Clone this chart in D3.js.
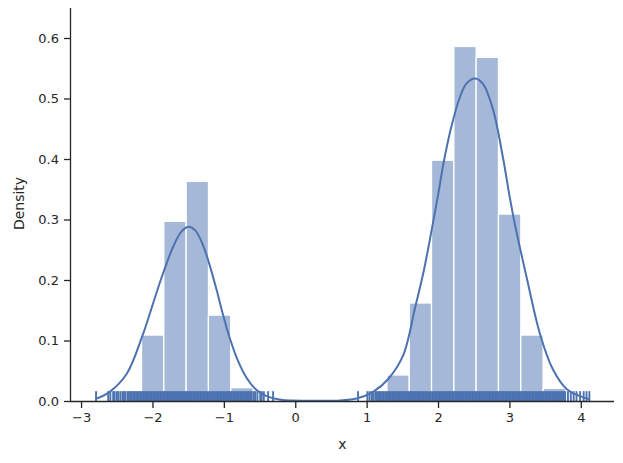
<!DOCTYPE html>
<html>
<head>
<meta charset="utf-8">
<script src="https://cdn.jsdelivr.net/npm/d3@7"></script>
<style>
    body { margin: 0; background: #fff; }
    text { font-family: "DejaVu Sans", sans-serif; fill: #262626; }
</style>
</head>
<body>
<div id="chart"></div>
<script>
// histogram bars (left edge of each bin, density)
const binX0 = [-2.153, -1.841, -1.528, -1.216, -0.903, 1.284, 1.597, 1.909, 2.222, 2.534, 2.847, 3.159, 3.472];
const binWidth = 0.3126;
const binDensity = [0.109, 0.297, 0.363, 0.142, 0.022, 0.043, 0.162, 0.398, 0.586, 0.568, 0.309, 0.109, 0.021];

// kde curve
const kdeX = [-2.80, -2.60, -2.36, -2.14, -2.00, -1.89, -1.80, -1.71, -1.60, -1.50, -1.40, -1.29, -1.20, -1.10, -1.01, -0.92, -0.80, -0.68, -0.55, -0.40, -0.20, -0.03, 0.30, 0.63, 0.86, 1.09, 1.30, 1.51, 1.68, 1.80, 1.91, 2.00, 2.08, 2.18, 2.30, 2.40, 2.52, 2.63, 2.77, 2.91, 3.00, 3.08, 3.24, 3.43, 3.61, 3.80, 3.99, 4.12];
const kdeY = [0.003, 0.015, 0.045, 0.108, 0.158, 0.198, 0.228, 0.255, 0.279, 0.288, 0.282, 0.257, 0.225, 0.183, 0.142, 0.105, 0.066, 0.038, 0.019, 0.008, 0.002, 0.0008, 0.0005, 0.001, 0.004, 0.015, 0.036, 0.075, 0.155, 0.215, 0.282, 0.340, 0.395, 0.450, 0.500, 0.525, 0.533, 0.524, 0.482, 0.402, 0.340, 0.290, 0.205, 0.110, 0.052, 0.020, 0.008, 0.003];

// rug samples
const rugX = [
    -2.79, -2.62, -2.59, -2.55, -2.53, -2.50, -2.48, -2.45, -2.42, -2.40, -2.38, -2.35, -2.33, -2.31, -2.29,
    -2.27, -2.25, -2.23, -2.21, -2.19, -2.17, -2.15, -2.13, -2.11, -2.09, -2.07, -2.05, -2.03, -2.01, -1.99,
    -1.97, -1.95, -1.93, -1.91, -1.89, -1.87, -1.85, -1.83, -1.81, -1.79, -1.77, -1.75, -1.73, -1.71, -1.69,
    -1.67, -1.65, -1.63, -1.61, -1.59, -1.57, -1.55, -1.53, -1.51, -1.49, -1.47, -1.45, -1.43, -1.41, -1.39,
    -1.37, -1.35, -1.33, -1.31, -1.29, -1.27, -1.25, -1.23, -1.21, -1.19, -1.17, -1.15, -1.13, -1.11, -1.09,
    -1.07, -1.05, -1.03, -1.01, -0.99, -0.97, -0.95, -0.93, -0.91, -0.89, -0.87, -0.85, -0.83, -0.81, -0.79,
    -0.77, -0.75, -0.73, -0.71, -0.69, -0.67, -0.65, -0.63, -0.61, -0.58, -0.56, -0.53, -0.49, -0.47, -0.44,
    -0.38, -0.31,
    0.88, 1.01, 1.04, 1.07, 1.09, 1.12, 1.14, 1.16, 1.18, 1.20, 1.22, 1.24, 1.26, 1.28, 1.30, 1.32, 1.34,
    1.36, 1.38, 1.40, 1.42, 1.44, 1.46, 1.48, 1.50, 1.52, 1.54, 1.56, 1.58, 1.60, 1.62, 1.64, 1.66, 1.68,
    1.70, 1.72, 1.74, 1.76, 1.78, 1.80, 1.82, 1.84, 1.86, 1.88, 1.90, 1.92, 1.94, 1.96, 1.98, 2.00, 2.02,
    2.04, 2.06, 2.08, 2.10, 2.12, 2.14, 2.16, 2.18, 2.20, 2.22, 2.24, 2.26, 2.28, 2.30, 2.32, 2.34, 2.36,
    2.38, 2.40, 2.42, 2.44, 2.46, 2.48, 2.50, 2.52, 2.54, 2.56, 2.58, 2.60, 2.62, 2.64, 2.66, 2.68, 2.70,
    2.72, 2.74, 2.76, 2.78, 2.80, 2.82, 2.84, 2.86, 2.88, 2.90, 2.92, 2.94, 2.96, 2.98, 3.00, 3.02, 3.04,
    3.06, 3.08, 3.10, 3.12, 3.14, 3.16, 3.18, 3.20, 3.22, 3.24, 3.26, 3.28, 3.30, 3.32, 3.34, 3.36, 3.38,
    3.40, 3.42, 3.44, 3.46, 3.48, 3.50, 3.52, 3.54, 3.56, 3.58, 3.60, 3.62, 3.64, 3.66, 3.68, 3.70, 3.72,
    3.74, 3.76, 3.78, 3.82, 3.86, 3.90, 3.94, 3.99, 4.04, 4.08, 4.12
];

const xTicks = [-3, -2, -1, 0, 1, 2, 3, 4];
const yTicks = [0, 0.1, 0.2, 0.3, 0.4, 0.5, 0.6];

class DistPlot {
    constructor(_parentElement) {
        this.parentElement = _parentElement;
        this.initVis();
    }

    initVis() {
        const vis = this;

        vis.MARGIN = { LEFT: 71, RIGHT: 9, TOP: 8, BOTTOM: 62 };
        vis.WIDTH = 623 - vis.MARGIN.LEFT - vis.MARGIN.RIGHT;
        vis.HEIGHT = 463 - vis.MARGIN.TOP - vis.MARGIN.BOTTOM;

        vis.svg = d3.select(vis.parentElement).append("svg")
            .attr("width", 623)
            .attr("height", 463);

        vis.g = vis.svg.append("g")
            .attr("transform", `translate(${vis.MARGIN.LEFT}, ${vis.MARGIN.TOP})`);

        vis.x = d3.scaleLinear().domain([-3.141, 4.465]).range([0, vis.WIDTH]);
        vis.y = d3.scaleLinear().domain([0, 0.6496]).range([vis.HEIGHT, 0]);

        vis.blue = "#4c72b0";
        vis.update();
    }

    update() {
        const vis = this;

        // Bars
        vis.g.selectAll(".bar")
            .data(binX0.map((x0, i) => ({ x0, d: binDensity[i] })))
            .join("rect")
            .attr("class", "bar")
            .attr("x", d => vis.x(d.x0))
            .attr("y", d => vis.y(d.d))
            .attr("width", d => vis.x(d.x0 + binWidth) - vis.x(d.x0))
            .attr("height", d => vis.HEIGHT - vis.y(d.d))
            .attr("fill", "#a5b8d8")
            .attr("stroke", "#fff")
            .attr("stroke-width", 1.3);

        // KDE line
        const line = d3.line()
            .x(d => vis.x(d[0]))
            .y(d => vis.y(d[1]))
            .curve(d3.curveCatmullRom);

        vis.g.append("path")
            .datum(kdeX.map((x, i) => [x, kdeY[i]]))
            .attr("d", line)
            .attr("fill", "none")
            .attr("stroke", vis.blue)
            .attr("stroke-width", 2);

        // Rug
        const rugH = vis.HEIGHT * 0.025;
        vis.g.selectAll(".rug")
            .data(rugX)
            .join("line")
            .attr("class", "rug")
            .attr("x1", d => vis.x(d))
            .attr("x2", d => vis.x(d))
            .attr("y1", vis.HEIGHT)
            .attr("y2", vis.HEIGHT - rugH)
            .attr("stroke", vis.blue)
            .attr("stroke-width", 1.9);

        // Axes
        const xAxis = d3.axisBottom(vis.x).tickValues(xTicks)
            .tickSize(7).tickPadding(5)
            .tickFormat(d => d3.format("")(d).replace("-", "\u2212"));
        const yAxis = d3.axisLeft(vis.y).tickValues(yTicks)
            .tickSize(7).tickPadding(5)
            .tickFormat(d3.format(".1f"));

        const gx = vis.g.append("g")
            .attr("transform", `translate(0, ${vis.HEIGHT})`)
            .call(xAxis);
        const gy = vis.g.append("g").call(yAxis);

        [gx, gy].forEach(a => {
            a.select(".domain").attr("stroke", "#262626").attr("stroke-width", 1.3);
            a.selectAll(".tick line").attr("stroke", "#262626").attr("stroke-width", 1.3);
            a.selectAll(".tick text")
                .attr("font-size", 13)
                .attr("font-family", "DejaVu Sans")
                .attr("fill", "#262626");
        });
        // plain spines, no outer tick caps
        gx.select(".domain").attr("d", `M0,0.5H${vis.WIDTH}`);
        gy.select(".domain").attr("d", `M-0.5,${vis.HEIGHT}V0`);

        // Labels
        vis.g.append("text")
            .attr("x", vis.WIDTH / 2)
            .attr("y", vis.HEIGHT + 48)
            .attr("text-anchor", "middle")
            .attr("font-size", 14)
            .text("x");

        vis.g.append("text")
            .attr("transform", `translate(${-47}, ${vis.HEIGHT / 2 - 1}) rotate(-90)`)
            .attr("text-anchor", "middle")
            .attr("font-size", 14)
            .text("Density");
    }
}

new DistPlot("#chart");
</script>
</body>
</html>
